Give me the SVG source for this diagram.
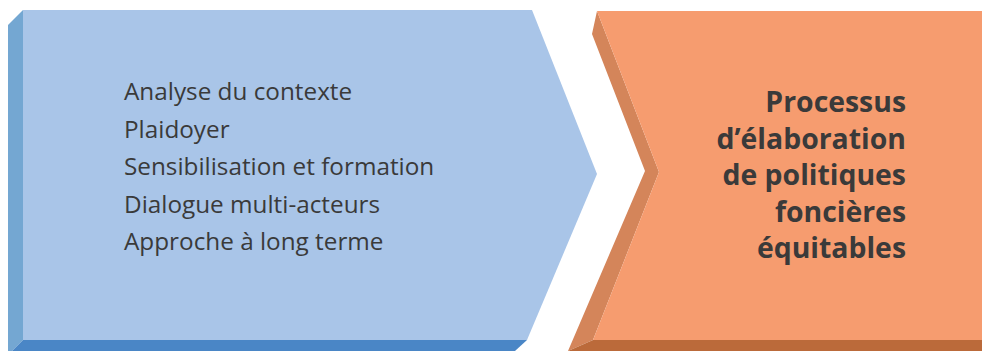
<svg xmlns="http://www.w3.org/2000/svg" width="982" height="351" viewBox="0 0 982 351">
<style>
.item{font-family:"Open Sans","Liberation Sans",sans-serif;font-size:24.3px;fill:#3a3a3a}
.title{font-family:"Open Sans","Liberation Sans",sans-serif;font-size:28.4px;font-weight:bold;fill:#3a3a3a;text-anchor:end}
</style>
<rect width="982" height="351" fill="#ffffff"/>
<g id="blue-chevron">
<polygon points="8,25 23,10 23,340 12,351 8,351" fill="#74a7d2"/>
<polygon points="23,340 527,340 515,351 12,351" fill="#4a86c6"/>
<polygon points="23,10 532,10 597,174 527,340 23,340" fill="#a9c5e8"/>
<text class="item" x="124" y="100">Analyse du contexte</text>
<text class="item" x="124" y="137.5">Plaidoyer</text>
<text class="item" x="124" y="175">Sensibilisation et formation</text>
<text class="item" x="124" y="212.5">Dialogue multi-acteurs</text>
<text class="item" x="124" y="250">Approche à long terme</text>
</g>
<g id="orange-chevron">
<polygon points="592,34 597,11 659,172 593,340 568,351 645,171" fill="#d4855a"/>
<polygon points="568,351 593,340 982,340 982,351" fill="#bb6a3a"/>
<polygon points="597,11 982,11 982,340 593,340 659,172" fill="#f69c6f"/>
<text class="title" x="906" y="112">Processus</text>
<text class="title" x="906" y="148.5">d’élaboration</text>
<text class="title" x="906" y="185">de politiques</text>
<text class="title" x="906" y="221.5">foncières</text>
<text class="title" x="906" y="258">équitables</text>
</g>
<g id="connectors"></g>
</svg>
